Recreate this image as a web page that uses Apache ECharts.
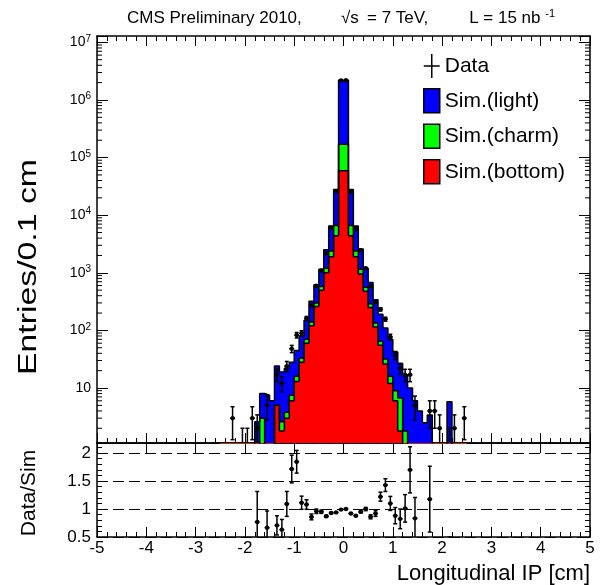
<!DOCTYPE html>
<html>
<head>
<meta charset="utf-8">
<script src="https://cdn.jsdelivr.net/npm/echarts@6.0.0/dist/echarts.min.js"></script>
<style>
  html, body { margin: 0; padding: 0; background: #fff; }
  #chart { width: 605px; height: 585px; }
</style>
</head>
<body>
<div id="chart"></div>
<script>
// histogram bins of 0.1 cm, first bin starts at -2.5 cm (everything outside is empty)
const binStart = -2.5
const binWidth = 0.1
const simBottom = [0, 0, 0, 0, 0, 0, 0, 0, 0, 0, 0, 5, 1.8, 3, 6, 13, 28, 60, 120, 260, 500, 1000, 1900, 4400, 59000,
  59000, 4400, 1900, 950, 480, 250, 115, 55, 26, 12, 6, 1.8, 0, 0, 0, 0, 0, 0, 0, 0, 0, 0, 0, 0, 0]
const simCharm = [0, 0, 0, 0, 0, 0, 0, 0, 3, 0, 0, 0, 0.8, 0.8, 1.5, 3, 5, 10, 20, 40, 80, 200, 500, 2200, 111000,
  111000, 2200, 500, 200, 80, 40, 20, 10, 6, 4, 3, 4.9, 1.8, 0.8, 0.5, 0, 0, 0, 0, 0, 0, 0, 0, 0, 0]
const simLight = [0, 0, 0, 0, 0, 0, 0, 2.6, 5, 7.5, 6, 19, 16.4, 18.2, 20.5, 29, 47, 80, 180, 320, 570, 1300, 4100, 21400, 2030000,
  2030000, 21400, 4100, 1450, 640, 390, 205, 125, 78, 54, 33, 20, 15, 9.2, 5.5, 4, 2.5, 3.4, 0, 0, 0, 5.8, 0, 0, 0]
const dataCounts = [0, 0, 3, 0, 1, 1, 3, 2, 0, 5, 0, 17, 12, 24, 48, 83, 89, 162, 275, 595, 1093, 2175, 6045, 26320, 2178000,
  2200000, 25760, 5720, 2470, 1200, 585, 313, 232, 157, 77, 37, 22, 17, 17, 5, 0, 0, 4, 4, 2, 0, 1, 2, 0, 3]

const FONT = '"Liberation Sans", Arial, Helvetica, sans-serif'
const LOG_FLOOR = 1e-3
const yMinMain = 1.11
const yMaxMain = 1.29e7

const charmStack = simBottom.map((b, i) => b + simCharm[i])
const totalSim = charmStack.map((c, i) => c + simLight[i])
const binCenter = i => binStart + (i + 0.5) * binWidth

function stepLine (values) {
  const pts = values.map((v, i) => [binStart + i * binWidth, v > 0 ? v : LOG_FLOOR])
  const last = values[values.length - 1]
  pts.push([binStart + values.length * binWidth, last > 0 ? last : LOG_FLOOR])
  return pts
}

const dataPoints = []
const ratioPoints = []
dataCounts.forEach((d, i) => {
  if (d <= 0) return
  dataPoints.push([binCenter(i), d, Math.sqrt(d)])
  if (totalSim[i] > 0) ratioPoints.push([binCenter(i), d / totalSim[i], Math.sqrt(d) / totalSim[i]])
})

// log minor ticks 2..9 x 10^n
const minorLogTicks = []
for (let n = 0; n <= 7; n++) {
  for (let m = 2; m <= 9; m++) {
    const v = m * Math.pow(10, n)
    if (v > yMinMain && v < yMaxMain) minorLogTicks.push([0, v])
  }
}

function errorBars (params, api) {
  const x = api.value(0)
  const y = api.value(1)
  const err = api.value(2)
  const cs = params.coordSys
  const top = cs.y
  const bottom = cs.y + cs.height
  const clampY = p => Math.min(Math.max(p, top), bottom)
  const c = api.coord([x, y])
  const hiRaw = api.coord([x, y + err])[1]
  const hi = clampY(hiRaw)
  const loVal = y - err
  const loRaw = loVal > 0 ? api.coord([x, loVal])[1] : Infinity
  const lo = clampY(loRaw)
  const style = { stroke: '#000', lineWidth: 1.5 }
  const children = []
  if (lo > hi) children.push({ type: 'line', shape: { x1: c[0], y1: lo, x2: c[0], y2: hi }, style })
  if (hiRaw >= top) children.push({ type: 'line', shape: { x1: c[0] - 2, y1: hi, x2: c[0] + 2, y2: hi }, style })
  if (loRaw <= bottom) children.push({ type: 'line', shape: { x1: c[0] - 2, y1: lo, x2: c[0] + 2, y2: lo }, style })
  if (c[1] >= top && c[1] <= bottom) {
    const l = api.coord([x - binWidth / 2, y])[0]
    const r = api.coord([x + binWidth / 2, y])[0]
    children.push({ type: 'line', shape: { x1: l, y1: c[1], x2: r, y2: c[1] }, style })
    children.push({ type: 'circle', shape: { cx: c[0], cy: c[1], r: 2.2 }, style: { fill: '#000' } })
  }
  return { type: 'group', children }
}

function logMinorTicks (params, api) {
  const cs = params.coordSys
  const y = api.coord([0, api.value(1)])[1]
  const style = { stroke: '#000', lineWidth: 1 }
  return {
    type: 'group',
    children: [
      { type: 'line', shape: { x1: cs.x, y1: y, x2: cs.x + 5, y2: y }, style },
      { type: 'line', shape: { x1: cs.x + cs.width - 5, y1: y, x2: cs.x + cs.width, y2: y }, style }
    ]
  }
}

const axisLine = { show: true, onZero: false, lineStyle: { color: '#000', width: 1.5 } }
const majorTick = len => ({ show: true, inside: true, length: len, lineStyle: { color: '#000', width: 1 } })
const minorTick = (len, split) => ({ show: true, splitNumber: split, length: len, lineStyle: { color: '#000', width: 1 } })

function xAxis (gridIndex, position, labels, minorLen) {
  return {
    type: 'value', gridIndex, position, min: -5, max: 5, interval: 1,
    axisLine, axisTick: majorTick(10),
    minorTick: minorLen ? minorTick(minorLen, 5) : { show: false },
    splitLine: { show: false },
    axisLabel: labels
      ? { show: true, fontFamily: FONT, fontSize: 17, color: '#000', margin: 3 }
      : { show: false }
  }
}

function logLabel (v) {
  const n = Math.round(Math.log10(v))
  if (n < 1 || Math.abs(Math.log10(v) - n) > 1e-6) return ''
  return n === 1 ? '{b|10}' : '{b|10}{s|' + n + '}'
}

const chart = echarts.init(document.getElementById('chart'), null, { renderer: 'canvas' })

chart.setOption({
  backgroundColor: '#fff',
  animation: false,
  grid: [
    { left: 97, right: 15, top: 36, height: 407 },
    { left: 97, right: 15, top: 443, height: 94 }
  ],
  xAxis: [
    xAxis(0, 'bottom', false, 5),
    xAxis(0, 'top', false, 5),
    xAxis(1, 'bottom', true, 5),
    xAxis(1, 'top', false, 0)
  ],
  yAxis: [
    {
      type: 'log', gridIndex: 0, position: 'left', min: yMinMain, max: yMaxMain,
      axisLine, axisTick: majorTick(11), splitLine: { show: false },
      axisLabel: {
        fontFamily: FONT, color: '#000', margin: 6, formatter: logLabel,
        rich: {
          b: { fontFamily: FONT, fontSize: 14, color: '#000' },
          s: { fontFamily: FONT, fontSize: 10, color: '#000', padding: [0, 0, 7, 0] }
        }
      }
    },
    {
      type: 'log', gridIndex: 0, position: 'right', min: yMinMain, max: yMaxMain,
      axisLine, axisTick: majorTick(11), splitLine: { show: false }, axisLabel: { show: false }
    },
    {
      type: 'value', gridIndex: 1, position: 'left', min: 0.5, max: 2.18, interval: 0.5,
      axisLine, axisTick: majorTick(9), minorTick: minorTick(5, 5),
      splitLine: { show: true, lineStyle: { color: '#000', width: 1.2, type: [11, 5] } },
      axisLabel: { fontFamily: FONT, fontSize: 17, color: '#000', margin: 6, showMaxLabel: false }
    },
    {
      type: 'value', gridIndex: 1, position: 'right', min: 0.5, max: 2.18, interval: 0.5,
      axisLine, axisTick: majorTick(9), minorTick: minorTick(5, 5),
      splitLine: { show: false }, axisLabel: { show: false }
    }
  ],
  legend: {
    orient: 'vertical', left: 423, top: 54, padding: 0, itemWidth: 16, itemHeight: 24, itemGap: 10,
    selectedMode: false,
    textStyle: { fontFamily: FONT, fontSize: 21, color: '#000' },
    data: [
      { name: 'Data', icon: 'path://M7.25,0H8.75V11.25H16V12.75H8.75V24H7.25V12.75H0V11.25H7.25Z', itemStyle: { color: '#000', borderWidth: 0 } },
      { name: 'Sim.(light)', icon: 'rect', itemStyle: { color: '#0000ff', borderColor: '#000', borderWidth: 1.5 } },
      { name: 'Sim.(charm)', icon: 'rect', itemStyle: { color: '#00ff00', borderColor: '#000', borderWidth: 1.5 } },
      { name: 'Sim.(bottom)', icon: 'rect', itemStyle: { color: '#ff0000', borderColor: '#000', borderWidth: 1.5 } }
    ]
  },
  graphic: [
    {
      type: 'text', x: 127, y: 18,
      style: { text: 'CMS Preliminary 2010,', font: '17px ' + FONT, fill: '#000', align: 'left', verticalAlign: 'middle' }
    },
    {
      type: 'text', x: 341, y: 18,
      style: { text: '\u221As', font: '17px ' + FONT, fill: '#000', align: 'left', verticalAlign: 'middle' }
    },
    {
      type: 'text', x: 367, y: 18,
      style: { text: '= 7 TeV,', font: '17px ' + FONT, fill: '#000', align: 'left', verticalAlign: 'middle' }
    },
    {
      type: 'text', x: 555, y: 18,
      style: {
        text: '{t|L = 15 nb }{s|-1}',
        align: 'right', verticalAlign: 'middle',
        rich: {
          t: { fontFamily: FONT, fontSize: 17, fill: '#000' },
          s: { fontFamily: FONT, fontSize: 11, fill: '#000', padding: [0, 0, 8, 0] }
        }
      }
    },
    {
      type: 'text', x: 29, y: 267, rotation: Math.PI / 2, scaleX: 1.3,
      style: { text: 'Entries/0.1 cm', font: '26px ' + FONT, fill: '#000', align: 'center', verticalAlign: 'middle' }
    },
    {
      type: 'text', x: 29, y: 493, rotation: Math.PI / 2,
      style: { text: 'Data/Sim', font: '21px ' + FONT, fill: '#000', align: 'center', verticalAlign: 'middle' }
    },
    {
      type: 'text', x: 590, y: 574,
      style: { text: 'Longitudinal IP [cm]', font: '22px ' + FONT, fill: '#000', align: 'right', verticalAlign: 'middle' }
    }
  ],
  series: [
    {
      name: 'Sim.(light)', type: 'line', step: 'end', xAxisIndex: 0, yAxisIndex: 0,
      data: stepLine(totalSim), symbol: 'none', clip: true,
      itemStyle: { color: '#0000ff' },
      lineStyle: { color: '#000', width: 1.5 },
      areaStyle: { color: '#0000ff', opacity: 1, origin: 'start' }
    },
    {
      name: 'Sim.(charm)', type: 'line', step: 'end', xAxisIndex: 0, yAxisIndex: 0,
      data: stepLine(charmStack), symbol: 'none', clip: true,
      itemStyle: { color: '#00ff00' },
      lineStyle: { color: '#000', width: 1.5 },
      areaStyle: { color: '#00ff00', opacity: 1, origin: 'start' }
    },
    {
      name: 'Sim.(bottom)', type: 'line', step: 'end', xAxisIndex: 0, yAxisIndex: 0,
      data: stepLine(simBottom), symbol: 'none', clip: true,
      itemStyle: { color: '#ff0000' },
      lineStyle: { color: '#000', width: 1.5 },
      areaStyle: { color: '#ff0000', opacity: 1, origin: 'start' }
    },
    {
      name: 'logMinorTicks', type: 'custom', xAxisIndex: 0, yAxisIndex: 0,
      data: minorLogTicks, renderItem: logMinorTicks, silent: true
    },
    {
      name: 'Data', type: 'custom', xAxisIndex: 0, yAxisIndex: 0,
      data: dataPoints, renderItem: errorBars, clip: true,
      itemStyle: { color: '#000' }, z: 5
    },
    {
      name: 'Ratio', type: 'custom', xAxisIndex: 2, yAxisIndex: 2,
      data: ratioPoints, renderItem: errorBars, clip: true,
      itemStyle: { color: '#000' }, z: 5
    }
  ]
})
</script>
</body>
</html>
